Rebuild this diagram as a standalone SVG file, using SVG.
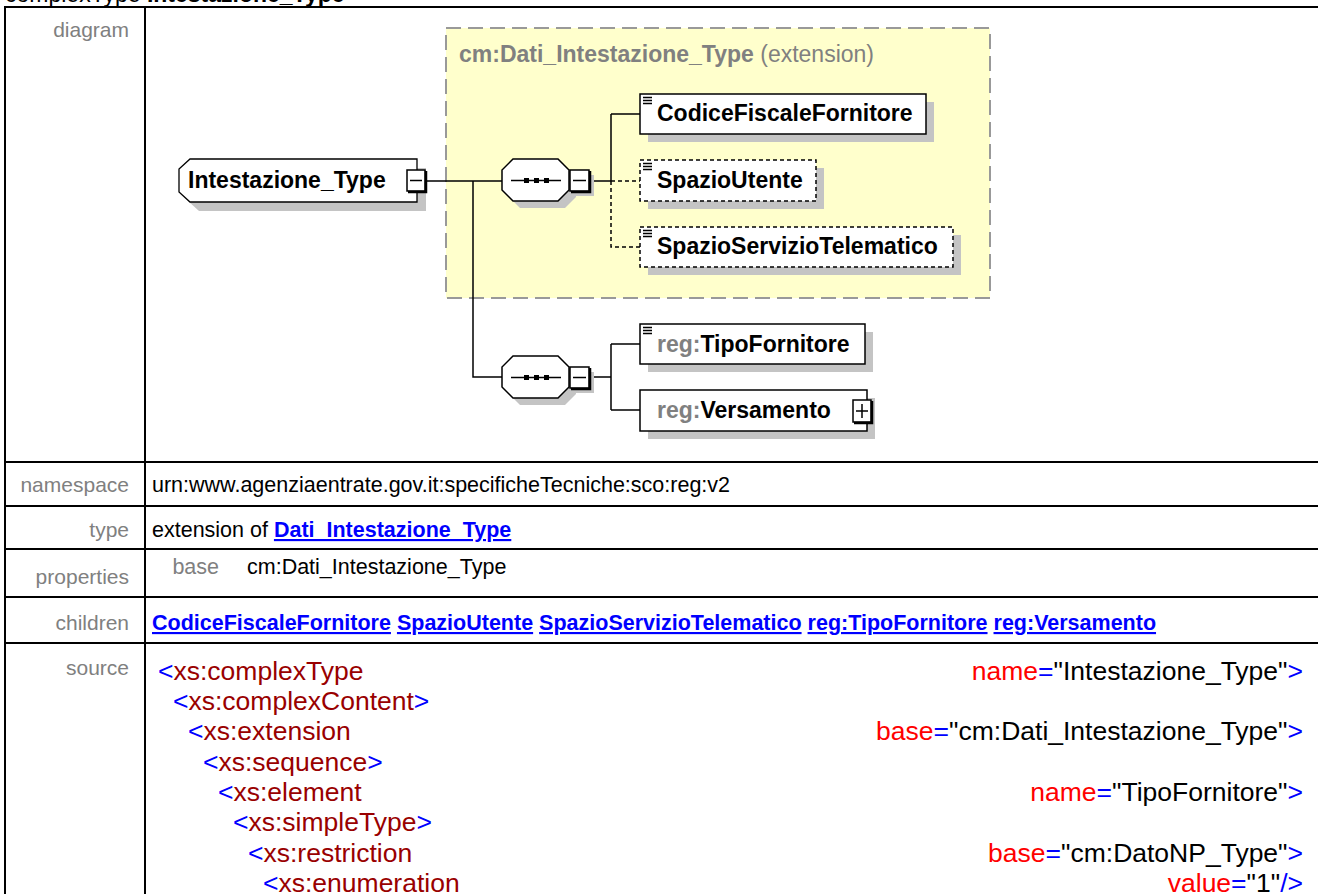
<svg xmlns="http://www.w3.org/2000/svg" width="1318" height="894" viewBox="0 0 1318 894">
<style>
text{font-family:"Liberation Sans",Arial,sans-serif}
.lbl{font-size:21px;fill:#808080;text-anchor:end}
.val{font-size:21.5px;fill:#000}
.lnk{font-size:21.5px;fill:#0000ff;font-weight:bold}
.u{text-decoration:underline}
.src{font-size:26.5px;fill:#000}
.b{fill:#0000ff}
.t{fill:#990000}
.a{fill:#ff0000}
.grid{stroke:#000;stroke-width:2;fill:none}
.nm{font-size:23px;font-weight:bold;fill:#000}
.ns{fill:#808080}
.sh{fill:#c4c4c4}
.bx{fill:#fff;stroke:#000;stroke-width:1.5}
.dbx{fill:#fff;stroke:#000;stroke-width:1.5;stroke-dasharray:4 3}
.ln{stroke:#000;stroke-width:1.5;fill:none}
.dln{stroke:#000;stroke-width:1.5;fill:none;stroke-dasharray:4 3}
.thick{stroke:#000;stroke-width:2.5;fill:none}
</style>
<defs>
<g id="eq"><path d="M3,3.5h9M3,6.5h9M3,9.5h9" stroke="#000" stroke-width="1.3"/></g>
<g id="seq">
<polygon class="sh" points="520,166 565,166 576,177 576,197 565,208 520,208 509,197 509,177"/>
<polygon class="bx" points="513,159 558,159 569,170 569,190 558,201 513,201 502,190 502,170"/>
<path class="ln" d="M511,180.5H561"/>
<rect x="524" y="178" width="5" height="5"/>
<rect x="534" y="178" width="5" height="5"/>
<rect x="544" y="178" width="5" height="5"/>
<rect class="sh" x="575" y="175" width="19" height="21"/>
<rect class="bx" x="570" y="170" width="19" height="21"/>
<path class="thick" d="M571,192H590V171"/>
<path class="ln" d="M573,180.5H586"/>
</g>
</defs>

<!-- header -->
<text x="5" y="2" style="font-size:23px">complexType <tspan font-weight="bold">Intestazione_Type</tspan></text>

<!-- table grid -->
<g id="table">
<path class="grid" d="M4,7H1318M4,462H1318M4,506H1318M4,549H1318M4,597H1318M4,643H1318"/>
<path class="grid" d="M5,6V894M145,6V894"/>
<text class="lbl" x="129" y="37">diagram</text>
<text class="lbl" x="129" y="492">namespace</text>
<text class="lbl" x="129" y="537">type</text>
<text class="lbl" x="129" y="584">properties</text>
<text class="lbl" x="129" y="630">children</text>
<text class="lbl" x="129" y="675">source</text>
<text class="val" x="152" y="492">urn:www.agenziaentrate.gov.it:specificheTecniche:sco:reg:v2</text>
<text class="val" x="152" y="537">extension of <tspan class="lnk u">Dati_Intestazione_Type</tspan></text>
<text class="lbl" x="219" y="574" style="font-size:21.5px">base</text>
<text class="val" x="247" y="574">cm:Dati_Intestazione_Type</text>
<text class="lnk" x="152" y="630"><tspan class="u">CodiceFiscaleFornitore</tspan> <tspan class="u">SpazioUtente</tspan> <tspan class="u">SpazioServizioTelematico</tspan> <tspan class="u">reg:TipoFornitore</tspan> <tspan class="u">reg:Versamento</tspan></text>
</g>

<!-- source -->
<g id="source">
<text class="src" x="158" y="680"><tspan class="b">&lt;</tspan><tspan class="t">xs:complexType</tspan></text>
<text class="src" x="1303" y="680" text-anchor="end"><tspan class="a">name</tspan><tspan class="b">=</tspan>"Intestazione_Type"<tspan class="b">&gt;</tspan></text>
<text class="src" x="173" y="710"><tspan class="b">&lt;</tspan><tspan class="t">xs:complexContent</tspan><tspan class="b">&gt;</tspan></text>
<text class="src" x="188" y="740"><tspan class="b">&lt;</tspan><tspan class="t">xs:extension</tspan></text>
<text class="src" x="1303" y="740" text-anchor="end"><tspan class="a">base</tspan><tspan class="b">=</tspan>"cm:Dati_Intestazione_Type"<tspan class="b">&gt;</tspan></text>
<text class="src" x="203" y="771"><tspan class="b">&lt;</tspan><tspan class="t">xs:sequence</tspan><tspan class="b">&gt;</tspan></text>
<text class="src" x="218" y="801"><tspan class="b">&lt;</tspan><tspan class="t">xs:element</tspan></text>
<text class="src" x="1303" y="801" text-anchor="end"><tspan class="a">name</tspan><tspan class="b">=</tspan>"TipoFornitore"<tspan class="b">&gt;</tspan></text>
<text class="src" x="233" y="831"><tspan class="b">&lt;</tspan><tspan class="t">xs:simpleType</tspan><tspan class="b">&gt;</tspan></text>
<text class="src" x="248" y="862"><tspan class="b">&lt;</tspan><tspan class="t">xs:restriction</tspan></text>
<text class="src" x="1303" y="862" text-anchor="end"><tspan class="a">base</tspan><tspan class="b">=</tspan>"cm:DatoNP_Type"<tspan class="b">&gt;</tspan></text>
<text class="src" x="263" y="892"><tspan class="b">&lt;</tspan><tspan class="t">xs:enumeration</tspan></text>
<text class="src" x="1303" y="892" text-anchor="end"><tspan class="a">value</tspan><tspan class="b">=</tspan>"1"<tspan class="b">/&gt;</tspan></text>
</g>

<!-- extension box -->
<g id="extension">
<rect x="446" y="28" width="544" height="270" fill="#ffffcc" stroke="#999" stroke-width="2" stroke-dasharray="15 7"/>
<text x="459" y="62" style="font-size:23px;fill:#808080"><tspan font-weight="bold">cm:Dati_Intestazione_Type</tspan> (extension)</text>
</g>

<!-- connectors -->
<g id="connectors">
<path class="ln" d="M426,181H502M473,181V377H502"/>
<path class="ln" d="M592,181H611M611,114V181M611,114H640"/>
<path class="dln" d="M611,181H640M611,181V247H640"/>
<path class="ln" d="M592,377H611M611,344V410M611,344H640M611,410H640"/>
</g>

<!-- root node -->
<g id="node-Intestazione_Type">
<polygon class="sh" points="199,168 426,168 426,211 199,211 188,201 188,178"/>
<polygon points="190,159 417,159 417,202 190,202 179,192 179,169" fill="#fff" stroke="#000" stroke-width="1.3"/>
<text class="nm" x="188" y="188">Intestazione_Type</text>
<rect class="bx" x="407" y="170" width="18" height="21"/>
<path class="thick" d="M408,192H426V171"/>
<path class="ln" d="M410,180.5H422"/>
</g>

<g id="node-seq1"><use href="#seq"/></g>
<g id="node-seq2"><use href="#seq" transform="translate(0,197)"/></g>

<g id="node-CodiceFiscaleFornitore">
<rect class="sh" x="648" y="102" width="286" height="40"/>
<rect class="bx" x="640" y="94" width="286" height="40"/>
<use href="#eq" transform="translate(640,94)"/>
<text class="nm" x="657" y="121">CodiceFiscaleFornitore</text>
</g>

<g id="node-SpazioUtente">
<rect class="sh" x="648" y="168" width="176" height="41"/>
<rect class="dbx" x="640" y="160" width="176" height="41"/>
<use href="#eq" transform="translate(640,160)"/>
<text class="nm" x="657" y="188">SpazioUtente</text>
</g>

<g id="node-SpazioServizioTelematico">
<rect class="sh" x="648" y="235" width="313" height="40"/>
<rect class="dbx" x="640" y="227" width="313" height="40"/>
<use href="#eq" transform="translate(640,227)"/>
<text class="nm" x="657" y="254">SpazioServizioTelematico</text>
</g>

<g id="node-TipoFornitore">
<rect class="sh" x="648" y="332" width="225" height="40"/>
<rect class="bx" x="640" y="324" width="225" height="40"/>
<use href="#eq" transform="translate(640,324)"/>
<text class="nm" x="657" y="352"><tspan class="ns">reg:</tspan>TipoFornitore</text>
</g>

<g id="node-Versamento">
<rect class="sh" x="648" y="398" width="227" height="41"/>
<rect class="bx" x="640" y="390" width="227" height="41"/>
<text class="nm" x="657" y="418"><tspan class="ns">reg:</tspan>Versamento</text>
<rect class="bx" x="853" y="400" width="18" height="22"/>
<path class="thick" d="M854,423H872V401"/>
<path class="ln" d="M856,411H868M862,404V418"/>
</g>
</svg>
